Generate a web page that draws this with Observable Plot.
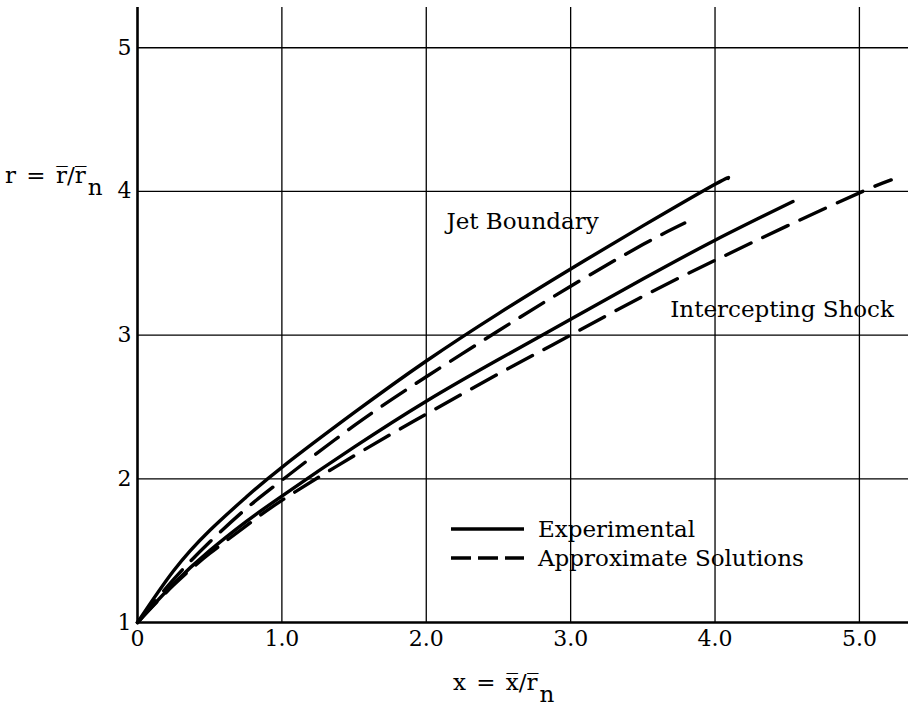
<!DOCTYPE html>
<html>
<head>
<meta charset="utf-8">
<script src="https://cdn.jsdelivr.net/npm/d3@7"></script>
<script src="https://cdn.jsdelivr.net/npm/@observablehq/plot@0.6"></script>
<style>
  body { margin: 0; background: #fff; }
  #wrap { position: relative; width: 908px; height: 707px; font-family: "DejaVu Serif", serif; color: #000; }
  #legend { position: absolute; left: 451px; top: 514px; font-size: 23px; }
  #legend .row { display: flex; align-items: center; height: 29px; }
  #legend svg { display: block; margin-right: 14px; }
</style>
</head>
<body>
<div id="wrap">
  <div id="chart"></div>
  <div id="legend">
    <div class="row"><svg width="73" height="6"><line x1="0" x2="73" y1="3" y2="3" stroke="#000" stroke-width="3.4"/></svg><span>Experimental</span></div>
    <div class="row"><svg width="73" height="6"><line x1="0" x2="73" y1="3" y2="3" stroke="#000" stroke-width="3.4" stroke-dasharray="20 7"/></svg><span>Approximate Solutions</span></div>
  </div>
</div>
<script>
// ---- data ----
const jetExpX = [0, 0.25, 0.5, 0.75, 1, 1.5, 2, 2.5, 3, 3.5, 4, 4.09];
const jetExpY = [1, 1.36, 1.64, 1.87, 2.08, 2.46, 2.82, 3.15, 3.46, 3.76, 4.05, 4.09];

const jetApproxX = [0, 0.25, 0.5, 0.75, 1, 1.5, 2, 2.5, 3, 3.5, 3.79];
const jetApproxY = [1, 1.3, 1.56, 1.79, 1.99, 2.37, 2.71, 3.03, 3.34, 3.63, 3.78];

const shockExpX = [0, 0.25, 0.5, 0.75, 1, 1.5, 2, 2.5, 3, 3.5, 4, 4.54];
const shockExpY = [1, 1.27, 1.5, 1.7, 1.88, 2.22, 2.54, 2.83, 3.11, 3.39, 3.66, 3.93];

const shockApproxX = [0, 0.25, 0.5, 0.75, 1, 1.5, 2, 2.5, 3, 3.5, 4, 4.5, 5, 5.22];
const shockApproxY = [1, 1.26, 1.48, 1.67, 1.85, 2.16, 2.45, 2.73, 3.0, 3.27, 3.52, 3.76, 3.99, 4.08];

const xTicks = [0, 1, 2, 3, 4, 5];
const xTickLabels = ["0", "1.0", "2.0", "3.0", "4.0", "5.0"];
const yTicks = [1, 2, 3, 4, 5];
const yTickLabels = ["1", "2", "3", "4", "5"];

const curveLabels = ["Jet Boundary", "Intercepting Shock"];
const curveLabelX = [2.14, 3.69];
const curveLabelY = [3.79, 3.18];

const xAxisTitle = "x = x\u0305/r\u0305";
const yAxisTitle = "r = r\u0305/r\u0305";
const subscript = "n";

// ---- build ----
const toRows = (xs, ys) => xs.map((x, i) => ({x, y: ys[i]}));
const jetExp = toRows(jetExpX, jetExpY);
const jetApprox = toRows(jetApproxX, jetApproxY);
const shockExp = toRows(shockExpX, shockExpY);
const shockApprox = toRows(shockApproxX, shockApproxY);
const labels = curveLabels.map((t, i) => ({t, x: curveLabelX[i], y: curveLabelY[i]}));

const solid = {x: "x", y: "y", stroke: "#000", strokeWidth: 3.4, curve: "natural", strokeLinecap: "round"};
const dashed = {...solid, strokeDasharray: "28 13"};

const chart = Plot.plot({
  width: 908,
  height: 707,
  marginLeft: 137,
  marginRight: 0,
  marginTop: 7,
  marginBottom: 85,
  x: {domain: [0, 5.34]},
  y: {domain: [1, 5.28]},
  style: {fontFamily: "DejaVu Serif", fontSize: "22px", color: "#000", background: "#fff"},
  marks: [
    Plot.gridX(xTicks.filter(d => d > 0), {stroke: "#000", strokeOpacity: 1, strokeWidth: 1.3}),
    Plot.gridY(yTicks.filter(d => d > 1), {stroke: "#000", strokeOpacity: 1, strokeWidth: 1.3}),
    Plot.ruleX([0], {stroke: "#000", strokeWidth: 2.6}),
    Plot.ruleY([1], {stroke: "#000", strokeWidth: 2.6}),
    Plot.axisX(xTicks, {tickSize: 0, tickPadding: 8, label: null, fontSize: 22,
      tickFormat: d => xTickLabels[xTicks.indexOf(d)]}),
    Plot.axisY(yTicks, {tickSize: 0, tickPadding: 6, label: null, fontSize: 22,
      tickFormat: d => yTickLabels[yTicks.indexOf(d)]}),
    Plot.line(jetExp, solid),
    Plot.line(shockExp, solid),
    Plot.line(jetApprox, dashed),
    Plot.line(shockApprox, dashed),
    Plot.text(labels, {x: "x", y: "y", text: "t", textAnchor: "start", fontSize: 23})
  ]
});

document.getElementById("chart").appendChild(chart);

// axis titles with subscripts
const svg = d3.select(chart);
function title(x, y, main) {
  const t = svg.append("text")
    .attr("x", x).attr("y", y)
    .attr("text-anchor", "start")
    .attr("font-family", "DejaVu Serif")
    .attr("font-size", 23)
    .attr("word-spacing", "3px")
    .attr("fill", "#000");
  t.append("tspan").text(main);
  t.append("tspan").attr("dy", "0.5em").attr("dx", "2").text(subscript);
}
title(5, 183, yAxisTitle);
title(453, 690, xAxisTitle);
</script>
</body>
</html>
